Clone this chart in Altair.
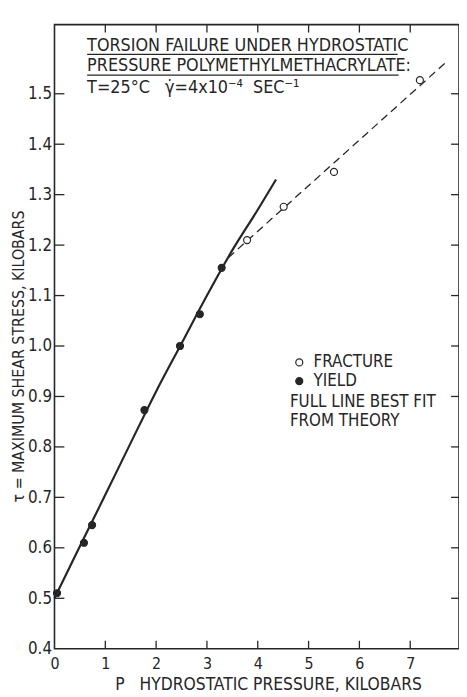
import altair as alt
import pandas as pd

# ---- data ----
fit_p = [0.0, 0.5, 1.0, 1.5, 2.0, 2.5, 3.0, 3.5, 4.0, 4.36]
fit_tau = [0.50, 0.603, 0.705, 0.808, 0.910, 1.005, 1.100, 1.190, 1.270, 1.330]

dash_p = [3.42, 7.70]
dash_tau = [1.175, 1.562]

yield_p = [0.05, 0.58, 0.74, 1.77, 2.47, 2.86, 3.29]
yield_tau = [0.51, 0.61, 0.645, 0.873, 1.00, 1.063, 1.155]

fracture_p = [3.79, 4.51, 5.50, 7.19]
fracture_tau = [1.21, 1.276, 1.345, 1.527]

x_ticks = [1, 2, 3, 4, 5, 6, 7]
x_labels = [0, 1, 2, 3, 4, 5, 6, 7]
y_ticks = [0.5, 0.6, 0.7, 0.8, 0.9, 1.0, 1.1, 1.2, 1.3, 1.4, 1.5]
y_labels = [0.4, 0.5, 0.6, 0.7, 0.8, 0.9, 1.0, 1.1, 1.2, 1.3, 1.4, 1.5]

NB = "\u00a0"
title_lines = [
    "TORSION FAILURE UNDER HYDROSTATIC",
    "PRESSURE POLYMETHYLMETHACRYLATE:",
    "T=25°C" + NB * 3 + "γ̇=4x10⁻⁴" + NB * 2 + "SEC⁻¹",
]
note_lines = ["FULL LINE BEST FIT", "FROM THEORY"]
series_names = ["FRACTURE", "YIELD"]

x_title = "P" + NB * 3 + "HYDROSTATIC PRESSURE, KILOBARS"
y_title = "τ = MAXIMUM SHEAR STRESS, KILOBARS"

# ---- layout / style ----
W, H = 409, 631
INK = "#262626"
FONT = "Liberation Sans Narrow, DejaVu Sans Condensed, Liberation Sans, sans-serif"

xs = alt.Scale(domain=[0, 7.96], nice=False, zero=False)
ys = alt.Scale(domain=[0.4, 1.637], nice=False, zero=False)

x_axis = alt.Axis(
    values=x_labels, format="d", title=x_title, labelPadding=7, labelFlush=False,
    labelFontSize=16, titleFontSize=17.5, titleFont=FONT, titleFontWeight="normal",
    titleColor=INK, titleX=216, titleY=36, titleAlign="center", titleBaseline="middle")
y_axis = alt.Axis(
    values=y_labels, format=".1f", title=y_title, labelPadding=3, labelFlush=False,
    labelFontSize=17, titleFontSize=16, titleFont=FONT, titleFontWeight="normal",
    titleColor=INK, titleX=-36, titleY=335, titleAngle=-90, titleAlign="center",
    titleBaseline="middle")


def X(field):
    return alt.X(field, scale=xs, axis=x_axis, title=x_title)


def Y(field):
    return alt.Y(field, scale=ys, axis=y_axis, title=y_title)


fit_df = pd.DataFrame({"p": fit_p, "tau": fit_tau})
dash_df = pd.DataFrame({"p": dash_p, "tau": dash_tau})
pts_df = pd.DataFrame({
    "p": yield_p + fracture_p,
    "tau": yield_tau + fracture_tau,
    "kind": ["YIELD"] * len(yield_p) + ["FRACTURE"] * len(fracture_p),
})

fit_line = alt.Chart(fit_df).mark_line(color=INK, strokeWidth=2.2, interpolate="monotone").encode(
    x=X("p:Q"), y=Y("tau:Q"))

dash_line = alt.Chart(dash_df).mark_line(color=INK, strokeWidth=1.3, strokeDash=[8, 5]).encode(
    x=X("p:Q"), y=Y("tau:Q"))

points = alt.Chart(pts_df).mark_point(filled=False, size=50, strokeWidth=1.2, opacity=1).encode(
    x=X("p:Q"), y=Y("tau:Q"),
    fill=alt.Fill("kind:N", scale=alt.Scale(domain=series_names, range=["white", INK]),
                  legend=alt.Legend(
                      title=None, orient="none", legendX=239, legendY=333,
                      symbolType="circle", symbolSize=50, symbolStrokeColor=INK,
                      symbolStrokeWidth=1.2, labelFont=FONT, labelFontSize=17,
                      labelColor=INK, labelOffset=6, rowPadding=1, padding=0)),
    stroke=alt.value(INK),
)

tx = pd.DataFrame({"p": x_ticks})
ty = pd.DataFrame({"tau": y_ticks})
tick_bottom = alt.Chart(tx).mark_rule(color=INK, strokeWidth=1.3).encode(
    x=X("p:Q"), y=alt.value(H), y2=alt.value(H - 8))
tick_top = alt.Chart(tx).mark_rule(color=INK, strokeWidth=1.3).encode(
    x=X("p:Q"), y=alt.value(0), y2=alt.value(8))
tick_left = alt.Chart(ty).mark_rule(color=INK, strokeWidth=1.3).encode(
    y=Y("tau:Q"), x=alt.value(0), x2=alt.value(10))
tick_right = alt.Chart(ty).mark_rule(color=INK, strokeWidth=1.3).encode(
    y=Y("tau:Q"), x=alt.value(W), x2=alt.value(W - 8))


def text_line(s, x, y, size=18):
    return alt.Chart(pd.DataFrame({"t": [s]})).mark_text(
        align="left", baseline="alphabetic", font=FONT, fontSize=size, color=INK
    ).encode(x=alt.value(x), y=alt.value(y), text="t:N")


def underline(x1, x2, y):
    return alt.Chart(pd.DataFrame({"t": [0]})).mark_rule(color=INK, strokeWidth=1.3).encode(
        x=alt.value(x1), x2=alt.value(x2), y=alt.value(y))


annotations = [
    text_line(title_lines[0], 33, 27),
    underline(33, 347, 30),
    text_line(title_lines[1], 33, 47),
    underline(33, 348, 51),
    text_line(title_lines[2], 33, 69),
    text_line(note_lines[0], 238, 387, 17),
    text_line(note_lines[1], 238, 406, 17),
]

chart = alt.layer(
    fit_line, dash_line, points,
    tick_bottom, tick_top, tick_left, tick_right,
    *annotations,
).properties(
    width=W, height=H,
    autosize=alt.AutoSizeParams(type="none"),
    padding={"left": 47, "top": 13, "right": 0, "bottom": 46},
    background="white",
).configure_view(
    stroke=INK, strokeWidth=1.6
).configure_axis(
    domain=False, ticks=False, tickSize=0, grid=False,
    labelFont=FONT, labelColor=INK, titleFont=FONT,
)

chart.save("out.html", embed_options={"renderer": "svg", "actions": False})
